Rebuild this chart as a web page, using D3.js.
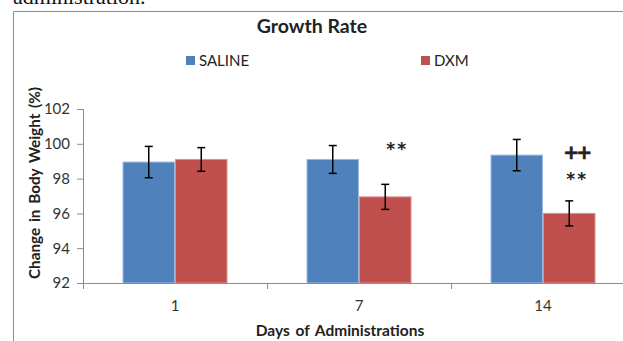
<!DOCTYPE html>
<html>
<head>
<meta charset="utf-8">
<script src="https://cdn.jsdelivr.net/npm/d3@7"></script>
<style>
  html, body { margin: 0; padding: 0; background: #fff; overflow: hidden; }
  svg { display: block; }
</style>
</head>
<body>
<svg id="chart" width="623" height="341"></svg>
<script>
// Growth rate data: mean change in body weight (%) and error (±)
const days = ["1", "7", "14"];
const groups = ["SALINE", "DXM"];
const salineMean = [98.95, 99.1, 99.35];
const salineErr = [0.9, 0.8, 0.9];
const dxmMean = [99.1, 96.95, 96.0];
const dxmErr = [0.68, 0.72, 0.72];
const yTicks = [92, 94, 96, 98, 100, 102];
// significance marks shown above the DXM bars
const marksTop = ["", "**", "++"];
const marksLow = ["", "", "**"];

const colors = { SALINE: "#4F81BD", DXM: "#C0504D" };
const edges = { SALINE: "#9DB9DD", DXM: "#DC8E8C" };
const font = "Lato, 'Open Sans', 'DejaVu Sans', sans-serif";

const svg = d3.select("#chart");

// partial caption line of the surrounding page text
svg.append("text")
  .attr("x", 13).attr("y", 4)
  .attr("font-family", "'Liberation Serif', 'DejaVu Serif', serif")
  .attr("font-size", 22).attr("fill", "#111")
  .text("administration.");

// chart frame
svg.append("path")
  .attr("d", "M13.5,341 V11.5 H640")
  .attr("fill", "none").attr("stroke", "#8c8c8c").attr("stroke-width", 1);

const x0 = d3.scaleBand().domain(days).range([83, 635]).padding(0);
const x1 = d3.scaleBand().domain(groups).range([-52.5, 52.5]).padding(0);
const y = d3.scaleLinear().domain([92, 102]).range([283, 109]);

const rows = days.map((d, i) => ({
  day: d,
  values: [
    { g: "SALINE", m: salineMean[i], e: salineErr[i] },
    { g: "DXM", m: dxmMean[i], e: dxmErr[i] }
  ]
}));

// bars
const grp = svg.append("g").selectAll("g").data(rows).join("g")
  .attr("transform", d => `translate(${x0(d.day) + x0.bandwidth() / 2},0)`);

grp.selectAll("rect").data(d => d.values).join("rect")
  .attr("x", d => x1(d.g) + 0.5)
  .attr("y", d => y(d.m))
  .attr("width", x1.bandwidth() - 1)
  .attr("height", d => y(92) - y(d.m))
  .attr("fill", d => colors[d.g])
  .attr("stroke", d => edges[d.g]).attr("stroke-width", 1);

// error bars
const eb = grp.selectAll("g.err").data(d => d.values).join("g").attr("class", "err")
  .attr("transform", d => `translate(${x1(d.g) + x1.bandwidth() / 2},0)`)
  .attr("stroke", "#000").attr("stroke-width", 1.5);
eb.append("line").attr("x1", 0).attr("x2", 0)
  .attr("y1", d => y(d.m + d.e)).attr("y2", d => y(d.m - d.e));
eb.append("line").attr("x1", -4).attr("x2", 4)
  .attr("y1", d => y(d.m + d.e)).attr("y2", d => y(d.m + d.e));
eb.append("line").attr("x1", -4).attr("x2", 4)
  .attr("y1", d => y(d.m - d.e)).attr("y2", d => y(d.m - d.e));

// significance marks
grp.append("text")
  .attr("x", (d, i) => x1("DXM") + x1.bandwidth() / 2 + (i === 2 ? 7 : 12))
  .attr("y", (d, i) => i === 2 ? 158.5 : 155)
  .attr("text-anchor", "middle")
  .attr("font-family", "'DejaVu Sans', sans-serif").attr("font-weight", "bold")
  .attr("font-size", (d, i) => i === 2 ? 19 : 17).attr("fill", "#222")
  .attr("stroke", (d, i) => i === 2 ? "#222" : "none").attr("stroke-width", 0.6)
  .attr("letter-spacing", (d, i) => i === 2 ? -3 : 2)
  .text((d, i) => marksTop[i]);
grp.append("text")
  .attr("x", x1("DXM") + x1.bandwidth() / 2 + 8)
  .attr("y", 185)
  .attr("text-anchor", "middle")
  .attr("font-family", "'DejaVu Sans', sans-serif").attr("font-weight", "bold")
  .attr("font-size", 17).attr("fill", "#222")
  .attr("letter-spacing", 2)
  .text((d, i) => marksLow[i]);

// y axis
const yAxis = svg.append("g").attr("transform", "translate(83,0)")
  .call(d3.axisLeft(y).tickValues(yTicks).tickSize(6).tickPadding(7).tickFormat(d3.format("d")));
yAxis.select(".domain").attr("stroke", "#8c8c8c").attr("d", "M0.5,109V283");
yAxis.selectAll(".tick line").attr("stroke", "#8c8c8c");
yAxis.selectAll("text").attr("font-family", font).attr("font-size", 15).attr("fill", "#333");

// x axis
const xAxis = svg.append("g").attr("transform", "translate(0,283)")
  .call(d3.axisBottom(x0).tickSize(0).tickPadding(17));
xAxis.select(".domain").attr("stroke", "#8c8c8c").attr("d", "M83,0.5H640");
xAxis.selectAll("text").attr("font-family", font).attr("font-size", 15).attr("fill", "#333");
// category boundary ticks
svg.append("g").selectAll("line").data(days).join("line")
  .attr("x1", d => Math.round(x0(d)) + 0.5).attr("x2", d => Math.round(x0(d)) + 0.5)
  .attr("y1", 283).attr("y2", 289)
  .attr("stroke", "#8c8c8c");

// title
svg.append("text")
  .attr("x", 312).attr("y", 33).attr("text-anchor", "middle")
  .attr("font-family", font).attr("font-weight", "bold").attr("font-size", 19.5).attr("fill", "#222")
  .text("Growth Rate");

// axis titles
svg.append("text")
  .attr("x", 340).attr("y", 336).attr("text-anchor", "middle")
  .attr("font-family", font).attr("font-weight", "bold").attr("font-size", 15.5).attr("fill", "#222")
  .attr("word-spacing", 2)
  .text("Days of Administrations");
svg.append("text")
  .attr("transform", "translate(40,183) rotate(-90)").attr("text-anchor", "middle")
  .attr("font-family", font).attr("font-weight", "bold").attr("font-size", 15.3).attr("fill", "#222")
  .attr("word-spacing", 2)
  .text("Change in Body Weight (%)");

// legend
const legendX = [186, 421];
const leg = svg.append("g").selectAll("g").data(groups).join("g")
  .attr("transform", (d, i) => `translate(${legendX[i]},56)`);
leg.append("rect").attr("width", 9).attr("height", 9).attr("fill", d => colors[d]);
leg.append("text").attr("x", 13).attr("y", 10)
  .attr("font-family", font).attr("font-size", 15).attr("fill", "#222")
  .text(d => d);
</script>
</body>
</html>
